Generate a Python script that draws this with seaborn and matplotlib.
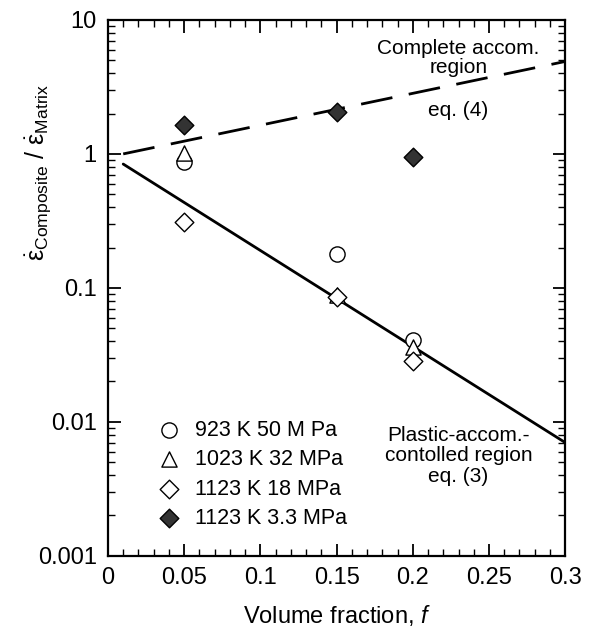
import numpy as np
import pandas as pd
import seaborn as sns
import matplotlib.pyplot as plt
from matplotlib.ticker import FixedLocator, FuncFormatter, LogLocator, NullFormatter

OUTPUT_PATH = "out.png"

# volume fractions tested
fractions = [0.05, 0.15, 0.2]

# strain-rate ratio per test condition
labels = ["923 K 50 M Pa", "1023 K 32 MPa", "1123 K 18 MPa", "1123 K 3.3 MPa"]
ratio_923K = [0.87, 0.18, 0.041]
ratio_1023K = [1.02, 0.088, 0.036]
ratio_1123K_18 = [0.31, 0.085, 0.0285]
ratio_1123K_33 = [1.65, 2.06, 0.95]

# model lines, eq. (3) and eq. (4)
model_f = [0.01, 0.3]
eq3_ratio = [0.84, 0.0070]
eq4_ratio = [1.0, 4.9]


def main() -> None:
    sns.set_theme(style="ticks")
    plt.rcParams["font.family"] = ["Liberation Sans", "DejaVu Sans"]
    plt.rcParams["mathtext.fontset"] = "custom"
    plt.rcParams["mathtext.rm"] = "Liberation Sans"
    plt.rcParams["mathtext.it"] = "Liberation Sans:italic"
    plt.rcParams["text.color"] = "black"
    plt.rcParams["axes.labelcolor"] = "black"
    plt.rcParams["xtick.labelcolor"] = "black"
    plt.rcParams["ytick.labelcolor"] = "black"

    fig = plt.figure(figsize=(5.9, 6.44), dpi=100)
    ax = fig.add_axes([0.183, 0.137, 0.775, 0.832])

    series = [
        (ratio_923K, "o", "white"),
        (ratio_1023K, "^", "white"),
        (ratio_1123K_18, "D", "white"),
        (ratio_1123K_33, "D", "#333333"),
    ]
    for (vals, marker, face), label in zip(series, labels):
        df = pd.DataFrame({"f": fractions, "ratio": vals})
        size = 90 if marker == "D" else 120
        sns.scatterplot(
            data=df, x="f", y="ratio", ax=ax, marker=marker, s=size,
            facecolor=face, edgecolor="black", linewidth=1.0, label=label, zorder=3,
        )

    line_df = pd.DataFrame({"f": model_f, "eq3": eq3_ratio, "eq4": eq4_ratio})
    sns.lineplot(data=line_df, x="f", y="eq3", ax=ax, color="black", linewidth=2.0, zorder=2)
    sns.lineplot(data=line_df, x="f", y="eq4", ax=ax, color="black", linewidth=2.0, zorder=2)
    ax.lines[-1].set_dashes((11.5, 6))

    ax.set_yscale("log")
    ax.set_xlim(0, 0.3)
    ax.set_ylim(0.001, 10)

    ax.xaxis.set_major_locator(FixedLocator([0, 0.05, 0.1, 0.15, 0.2, 0.25, 0.3]))
    ax.xaxis.set_minor_locator(FixedLocator(np.arange(0, 0.301, 0.01)))
    ax.xaxis.set_major_formatter(FuncFormatter(lambda v, p: f"{v:g}"))
    ax.yaxis.set_major_locator(LogLocator(base=10, numticks=10))
    ax.yaxis.set_minor_locator(LogLocator(base=10, subs=np.arange(2, 10), numticks=20))
    ax.yaxis.set_major_formatter(FuncFormatter(lambda v, p: f"{v:g}"))
    ax.yaxis.set_minor_formatter(NullFormatter())

    ax.tick_params(which="both", direction="in", top=True, right=True, color="black")
    ax.tick_params(which="major", length=9, width=1.3, labelsize=17, pad=8)
    ax.tick_params(which="minor", length=5, width=1.0)
    for spine in ax.spines.values():
        spine.set_linewidth(1.6)
        spine.set_color("black")

    ax.set_xlabel("Volume fraction, $\\it{f}$", fontsize=17, labelpad=10)
    ax.set_ylabel(r"$\dot{\mathrm{\varepsilon}}_{\rm Composite}\ /\ \dot{\mathrm{\varepsilon}}_{\rm Matrix}$",
                  fontsize=18)
    ax.yaxis.set_label_coords(-0.12, 0.715)

    ax.text(0.23, 5.2, "Complete accom.\nregion", ha="center", va="center",
            fontsize=15, linespacing=1.0)
    ax.text(0.23, 2.1, "eq. (4)", ha="center", va="center", fontsize=15)
    ax.text(0.23, 0.0056, "Plastic-accom.-\ncontolled region\neq. (3)", ha="center",
            va="center", fontsize=15, linespacing=1.1)

    ax.legend(loc="upper left", bbox_to_anchor=(0.068, 0.27), frameon=False,
              fontsize=15.5, handletextpad=0.2, labelspacing=0.39, borderaxespad=0)

    fig.savefig(OUTPUT_PATH, dpi=100)
    plt.close(fig)


if __name__ == "__main__":
    main()
